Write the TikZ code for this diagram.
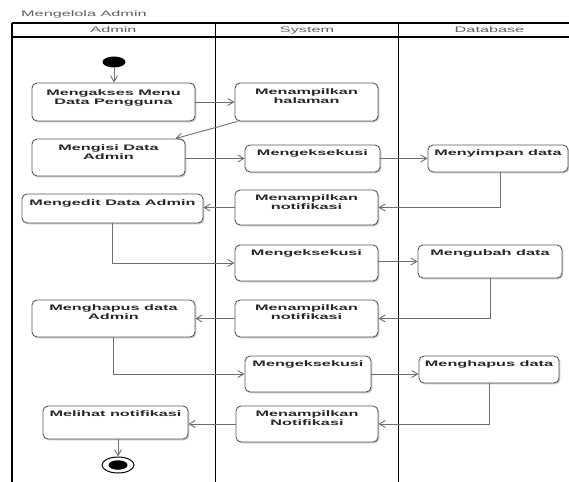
\documentclass[tikz,border=0pt]{standalone}
\usepackage{fontspec}
\usetikzlibrary{arrows.meta,shapes.geometric,fit,shadows}
\newfontfamily\diafont[FakeStretch=2.03]{Liberation Sans}
\definecolor{boxline}{HTML}{5A5A5A}
\definecolor{conn}{HTML}{6E6E6E}
\definecolor{txt}{HTML}{262626}
\definecolor{hdr}{HTML}{5E5E5E}
\begin{document}
\begin{tikzpicture}[x=1pt,y=-1pt,
  actbox/.style={draw=boxline, line width=0.9pt, rounded corners=5pt, fill=white, inner sep=0pt,
    drop shadow={shadow xshift=1.3pt,shadow yshift=-1.3pt,opacity=0.22,fill=black}},
  lbl/.style={font=\diafont\bfseries\fontsize{8}{9}\selectfont, text=txt, align=center, inner sep=0pt, anchor=north},
  hdrtxt/.style={font=\diafont\fontsize{8}{9}\selectfont, text=hdr, inner sep=0pt, anchor=base},
  frame/.style={line width=1.5pt, black},
  flow/.style={draw=conn, line width=0.9pt, -{Straight Barb[length=6pt,width=7pt]}},
]
\useasboundingbox (0,0) rectangle (569,481);
\clip (0,0) rectangle (569,481);

% title and swimlanes
\node[font=\diafont\fontsize{8}{9}\selectfont, text=hdr, anchor=base west, inner sep=0pt] (title) at (21,17) {Mengelola Admin};
\draw[frame] (12,23) -- (580,23);
\draw[frame] (12,37) -- (580,37);
\draw[frame] (12,23) -- (12,490);
\draw[frame] (215.5,23) -- (215.5,490);
\draw[frame] (398.5,23) -- (398.5,490);
\draw[frame] (580,23) -- (580,490);
\node[hdrtxt] (hA) at (113.5,33) {Admin};
\node[hdrtxt] (hS) at (307,33) {System};
\node[hdrtxt] (hD) at (489.5,33) {Database};

% start / end
\node[ellipse, fill=black, minimum width=23pt, minimum height=11pt, inner sep=0pt] (start) at (114,62) {};
\node[ellipse, draw=black, fill=white, line width=1pt, minimum width=32pt, minimum height=16pt, inner sep=0pt] (end) at (118,465) {};
\node[ellipse, fill=black, minimum width=19pt, minimum height=9.5pt, inner sep=0pt] (endin) at (end) {};

% activity boxes
\node[actbox, fit={(32,83) (195,121)}] (b1) {};
\node[lbl] (t1) at ([yshift=-7pt]b1.north) {Mengakses Menu\\Data Pengguna};
\node[actbox, fit={(235,83) (378,121)}] (b2) {};
\node[lbl] (t2) at ([yshift=-6pt]b2.north) {Menampilkan\\halaman};
\node[actbox, fit={(32,139) (185,176)}] (b3) {};
\node[lbl] (t3) at ([yshift=-6pt]b3.north) {Mengisi Data\\Admin};
\node[actbox, fit={(245,145) (380,172)}] (b4) {};
\node[lbl] (t4) at ([yshift=-5pt]b4.north) {Mengeksekusi};
\node[actbox, fit={(428,145) (568,172)}] (b5) {};
\node[lbl] (t5) at ([yshift=-5pt]b5.north) {Menyimpan data};
\node[actbox, fit={(235,190) (378,225)}] (b6) {};
\node[lbl] (t6) at ([yshift=-5pt]b6.north) {Menampilkan\\notifikasi};
\node[actbox, fit={(22,194) (203,223)}] (b7) {};
\node[lbl] (t7) at ([yshift=-6pt]b7.north) {Mengedit Data Admin};
\node[actbox, fit={(235,245) (378,281)}] (b8) {};
\node[lbl] (t8) at ([yshift=-5pt]b8.north) {Mengeksekusi};
\node[actbox, fit={(418,245) (562,278)}] (b9) {};
\node[lbl] (t9) at ([yshift=-5pt]b9.north) {Mengubah data};
\node[actbox, fit={(235,300) (378,337)}] (b10) {};
\node[lbl] (t10) at ([yshift=-5pt]b10.north) {Menampilkan\\notifikasi};
\node[actbox, fit={(32,300) (195,337)}] (b11) {};
\node[lbl] (t11) at ([yshift=-5pt]b11.north) {Menghapus data\\Admin};
\node[actbox, fit={(245,356) (371,392)}] (b12) {};
\node[lbl] (t12) at ([yshift=-5pt]b12.north) {Mengeksekusi};
\node[actbox, fit={(419,356) (559,383)}] (b13) {};
\node[lbl] (t13) at ([yshift=-5pt]b13.north) {Menghapus data};
\node[actbox, fit={(236,406) (378,442)}] (b14) {};
\node[lbl] (t14) at ([yshift=-5pt]b14.north) {Menampilkan\\Notifikasi};
\node[actbox, fit={(43,406) (188,439)}] (b15) {};
\node[lbl] (t15) at ([yshift=-5pt]b15.north) {Melihat notifikasi};

% connectors
\draw[flow] (start) -- (start |- b1.north);
\draw[flow] (b1.east) -- (b2.west);
\draw[flow] ([xshift=3pt]b2.south west) -- ([xshift=-10pt]b3.north east);
\draw[flow] (b3.east |- b4.west) -- (b4.west);
\draw[flow] (b4.east) -- (b5.west);
\draw[flow] ([xshift=2pt]b5.south) |- (b6.east);
\draw[flow] (b6.west) -- (b6.west -| b7.east);
\draw[flow] (b7.south) |- (b8.west);
\draw[flow] (b8.east |- b9.west) -- (b9.west);
\draw[flow] (b9.south) |- (b10.east);
\draw[flow] (b10.west) -- (b11.east);
\draw[flow] (b11.south) |- (b12.west);
\draw[flow] (b12.east) -- (b12.east -| b13.west);
\draw[flow] (b13.south) |- (b14.east);
\draw[flow] (b14.west) -- (b14.west -| b15.east);
\draw[flow] (end.north |- b15.south) -- (end.north);
\end{tikzpicture}
\end{document}
